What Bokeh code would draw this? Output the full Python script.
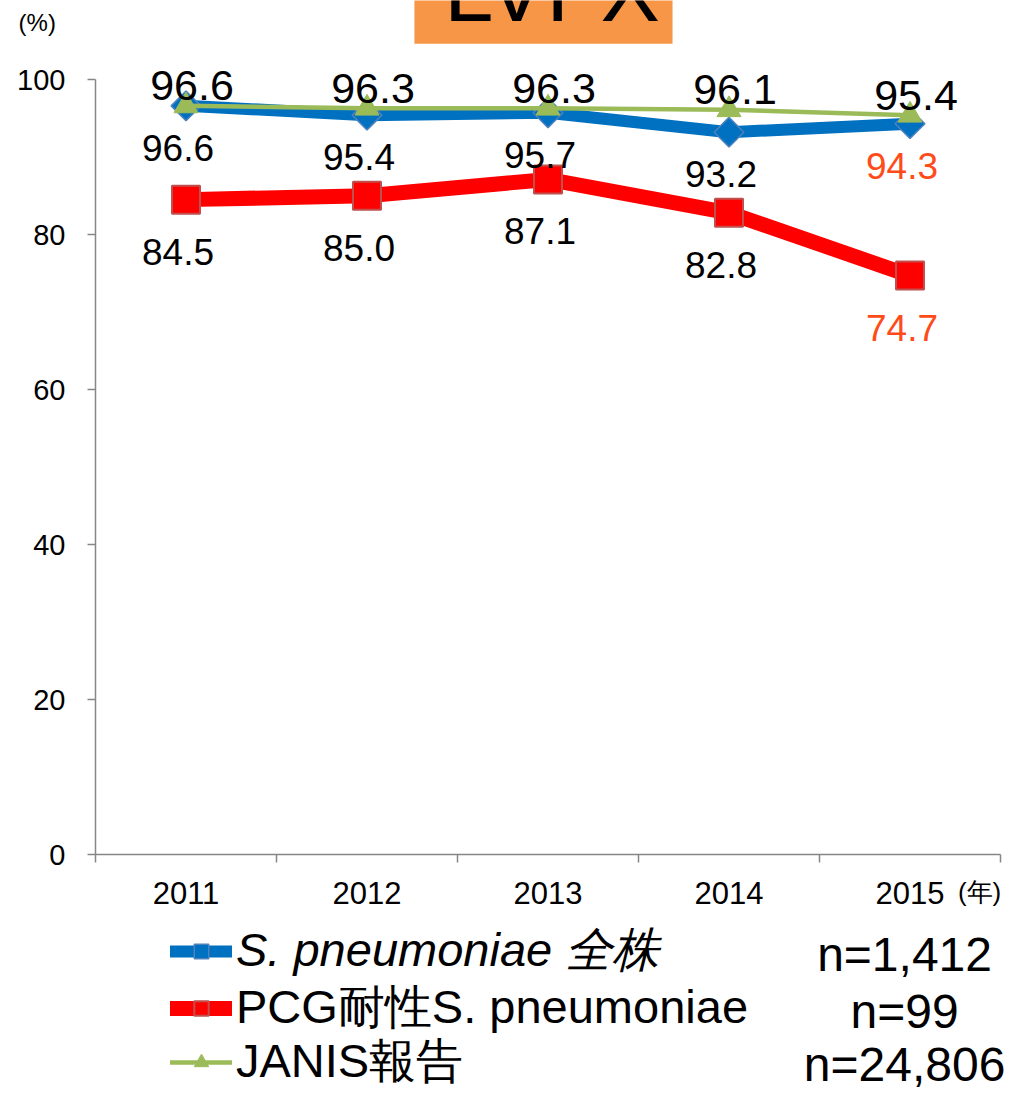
import math
from bokeh.plotting import figure
from bokeh.models import (ColumnDataSource, LabelSet, Label, Legend, LegendItem,
                          FixedTicker, BoxAnnotation, Range1d)
from bokeh.core.properties import value
from bokeh.embed import file_html
from bokeh.resources import INLINE

# ---------------- data ----------------
years = ["2011", "2012", "2013", "2014", "2015"]
all_strains = [96.6, 95.4, 95.7, 93.2, 94.3]       # S. pneumoniae 全株
pcg_resistant = [84.5, 85.0, 87.1, 82.8, 74.7]     # PCG耐性S. pneumoniae
janis = [96.6, 96.3, 96.3, 96.1, 95.4]             # JANIS報告
y_ticks = [0, 20, 40, 60, 80, 100]
series_names = ["S. pneumoniae 全株", "PCG耐性S. pneumoniae", "JANIS報告"]
sample_sizes = ["n=1,412", "n=99", "n=24,806"]
chart_title = "LVFX"
y_unit = "(%)"
x_unit = "(年)"

FONT = "Liberation Sans"
BLUE = "#0070C0"
RED = "#FF0000"
GREEN = "#9BBB59"
HILITE = "#FF4B1A"
AXIS = "#868686"

W, H = 1010, 1093
# plot-area geometry in canvas pixels
AX_LEFT, AX_RIGHT, AX_ZERO, PX_PER_PCT = 95, 1000, 854, 7.75

xs = list(range(1, len(years) + 1))
px_per_cat = (AX_RIGHT - AX_LEFT) / len(years)
x0 = 0.5 - AX_LEFT / px_per_cat
x1 = 0.5 + (W - AX_LEFT) / px_per_cat
y1 = AX_ZERO / PX_PER_PCT
y0 = -(H - AX_ZERO) / PX_PER_PCT

def lbl(vals):
    return [f"{v:.1f}" for v in vals]

def lbl_colors(n):
    return ["black"] * (n - 1) + [HILITE]

src = ColumnDataSource(dict(
    x=xs,
    blue=all_strains, red=pcg_resistant, green=janis,
    blue_t=lbl(all_strains), red_t=lbl(pcg_resistant), green_t=lbl(janis),
    blue_c=lbl_colors(len(xs)), red_c=lbl_colors(len(xs)),
))

p = figure(width=W, height=H,
           x_range=Range1d(x0, x1), y_range=Range1d(y0, y1),
           output_backend="svg", toolbar_location=None,
           min_border_left=0, min_border_right=0,
           min_border_top=0, min_border_bottom=0)
p.outline_line_color = None
p.xgrid.visible = False
p.ygrid.visible = False
p.background_fill_color = "white"
p.border_fill_color = "white"

# ---------- axes (drawn inside the full-canvas frame) ----------
xa = p.xaxis[0]
xa.fixed_location = 0
xa.bounds = (0.5, len(years) + 0.5)
xa.ticker = FixedTicker(ticks=xs, minor_ticks=[x - 0.5 for x in xs] + [xs[-1] + 0.5])
xa.major_label_overrides = {x: y for x, y in zip(xs, years)}
xa.major_tick_in = 0
xa.major_tick_out = 0
xa.minor_tick_in = 0
xa.minor_tick_out = 8
xa.minor_tick_line_color = AXIS
xa.minor_tick_line_width = 1.5
xa.axis_line_color = AXIS
xa.axis_line_width = 1.5
xa.major_label_text_font = FONT
xa.major_label_text_font_size = "31px"
xa.major_label_text_color = "black"
xa.major_label_standoff = 19

ya = p.yaxis[0]
ya.fixed_location = 0.5
ya.ticker = FixedTicker(ticks=y_ticks)
ya.bounds = (0, 100)
ya.major_tick_in = 0
ya.major_tick_out = 8
ya.minor_tick_out = 0
ya.minor_tick_in = 0
ya.major_tick_line_color = AXIS
ya.major_tick_line_width = 1.5
ya.axis_line_color = AXIS
ya.axis_line_width = 1.5
ya.major_label_text_font = FONT
ya.major_label_text_font_size = "29px"
ya.major_label_text_color = "black"
ya.major_label_standoff = 22

# ---------- series ----------
b_line = p.line("x", "blue", source=src, line_color=BLUE, line_width=12,
                line_cap="round", line_join="round")
b_mark = p.scatter("x", "blue", source=src, marker="square", angle=math.pi / 4,
                   size=21, fill_color=BLUE, line_color="#4F81BD", line_width=1.5)
r_line = p.line("x", "red", source=src, line_color=RED, line_width=15,
                line_cap="round", line_join="round")
r_mark = p.scatter("x", "red", source=src, marker="square", size=28,
                   fill_color=RED, line_color="#C0504D", line_width=2)
g_line = p.line("x", "green", source=src, line_color=GREEN, line_width=4.5,
                line_cap="round", line_join="round")
g_mark = p.scatter("x", "green", source=src, marker="triangle", size=24,
                   fill_color=GREEN, line_color=GREEN)

# ---------- data labels ----------
p.add_layout(LabelSet(x="x", y="green", text="green_t", source=src,
                      text_font=value(FONT), text_font_size="43px", text_color="black",
                      text_align="center", text_baseline="middle",
                      x_offset=6, y_offset=20))
p.add_layout(LabelSet(x="x", y="blue", text="blue_t", source=src,
                      text_font=value(FONT), text_font_size="37px", text_color="blue_c",
                      text_align="center", text_baseline="middle",
                      x_offset=-8, y_offset=-42))
p.add_layout(LabelSet(x="x", y="red", text="red_t", source=src,
                      text_font=value(FONT), text_font_size="37px", text_color="red_c",
                      text_align="center", text_baseline="middle",
                      x_offset=-8, y_offset=-52))

# ---------- title box ----------
p.add_layout(BoxAnnotation(left=2.262, right=3.688, bottom=104.6, top=y1 + 5,
                           fill_color="#F79646", fill_alpha=1.0, line_alpha=0))
p.add_layout(Label(x=3.022, y=111.5, text=chart_title, text_font=FONT,
                   text_font_size="89px", text_color="black",
                   text_align="center", text_baseline="alphabetic"))

# ---------- unit labels ----------
p.add_layout(Label(x=0.075, y=107.4, text=y_unit, text_font=FONT,
                   text_font_size="24px", text_color="black",
                   text_align="left", text_baseline="middle"))
p.add_layout(Label(x=5.265, y=-4.9, text=x_unit, text_font=FONT,
                   text_font_size="26px", text_color="black",
                   text_align="left", text_baseline="middle"))

# ---------- legends ----------
groups = [[b_line, b_mark], [r_line, r_mark], [g_line, g_mark]]
styles = ["italic", "normal", "normal"]
locs = [(170, 111), (170, 54), (170, 0)]
for name, rends, st, loc in zip(series_names, groups, styles, locs):
    leg = Legend(items=[LegendItem(label=name, renderers=rends)],
                 location=loc, orientation="vertical",
                 label_text_font=FONT, label_text_font_size="47px",
                 label_text_font_style=st, label_text_color="black",
                 glyph_width=62, glyph_height=36, label_standoff=4,
                 padding=0, margin=0, spacing=0,
                 border_line_alpha=0, background_fill_alpha=0)
    p.add_layout(leg, "center")

n_y = [-12.9, -20.3, -27.1]
for t, yy in zip(sample_sizes, n_y):
    p.add_layout(Label(x=4.97, y=yy, text=t, text_font=FONT,
                       text_font_size="48px", text_color="black",
                       text_align="center", text_baseline="middle"))

open("out.html", "w").write(file_html(p, INLINE))
